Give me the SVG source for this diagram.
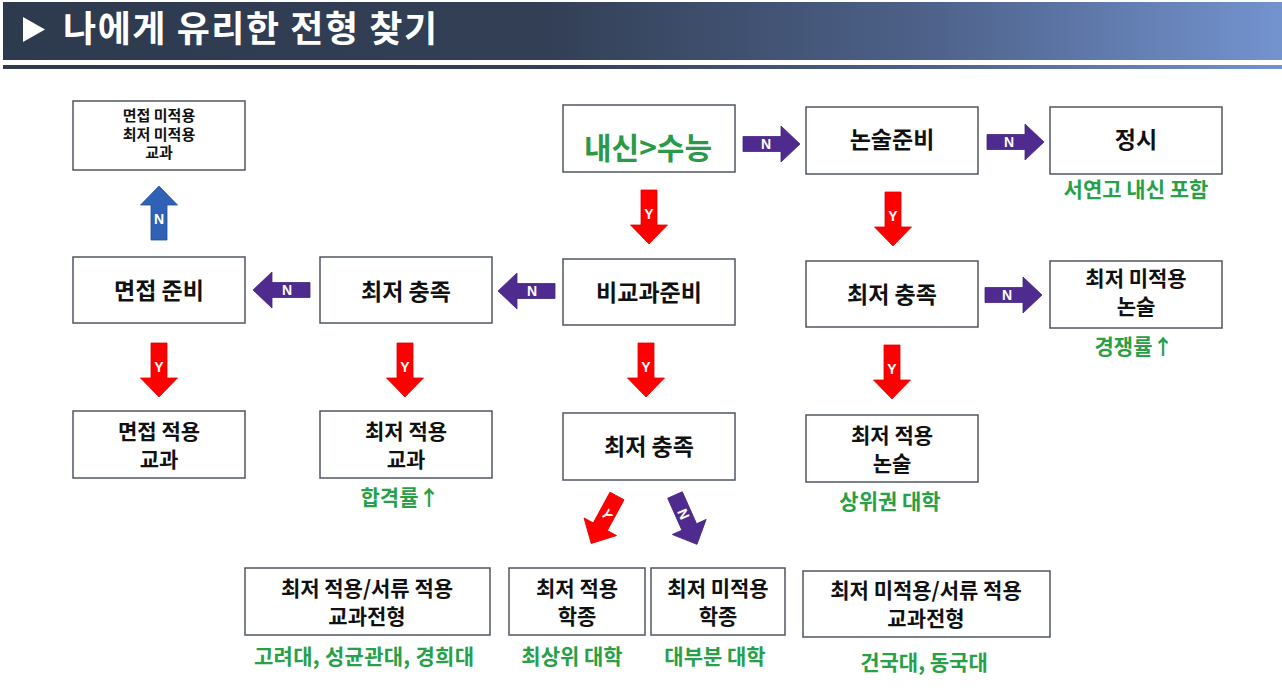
<svg xmlns="http://www.w3.org/2000/svg" width="1282" height="691" viewBox="0 0 1282 691">
<defs>
<linearGradient id="hdr" x1="0" y1="0" x2="1" y2="0">
<stop offset="0" stop-color="#2e3a4e"/>
<stop offset="0.42" stop-color="#323f55"/>
<stop offset="0.72" stop-color="#4d6189"/>
<stop offset="1" stop-color="#7393cf"/>
</linearGradient>
<path id="dn" d="M-8,0 h16 v35 h10.5 l-18.5,19 l-18.5,-19 h10.5 z"/>
<path id="rt" d="M0,-7.5 h38 v-10.5 l19,18 l-19,18 v-10.5 h-38 z"/>
<path id="lt" d="M0,-7.5 h-38 v-10.5 l-19,18 l19,18 v-10.5 h38 z"/>
</defs>
<style>
.box{fill:#fff;stroke:#4f5662;stroke-width:1.5}
.bt{font-family:"Noto Sans CJK KR","Noto Sans",sans-serif;font-weight:700;font-size:23px;fill:#111;text-anchor:middle}
.two{font-size:21px}
.sm{font-size:15px}
.g{fill:#27a048;font-size:21px}
.big{fill:#2a9a48;font-size:30px}
.al{font-family:"Liberation Sans",Arial,sans-serif;font-weight:700;font-size:14px;fill:#fff;text-anchor:middle}
.red{fill:#ff0000;stroke:#e00000;stroke-width:0.8}
.pur{fill:#4f2b8f;stroke:#43247c;stroke-width:0.8}
.blu{fill:#2f62b4;stroke:#234f96;stroke-width:0.8}
</style>
<rect width="1282" height="691" fill="#fff"/>
<g id="header">
<rect x="3" y="2" width="1279" height="58" fill="url(#hdr)"/>
<rect x="3" y="65" width="1279" height="4" fill="url(#hdr)"/>
<polygon points="23,17 23,42 45,29.5" fill="#fff"/>
<text x="63" y="42" font-family="Noto Sans CJK KR, Noto Sans, sans-serif" font-weight="700" font-size="36" fill="#fff" textLength="374" lengthAdjust="spacing">나에게 유리한 전형 찾기</text>
</g>
<g id="connectors">
<use href="#dn" class="red" transform="translate(649,190)"/><text class="al" x="649" y="219">Y</text>
<use href="#dn" class="red" transform="translate(893,192)"/><text class="al" x="893" y="221">Y</text>
<use href="#dn" class="red" transform="translate(159,343)"/><text class="al" x="159" y="372">Y</text>
<use href="#dn" class="red" transform="translate(405,343)"/><text class="al" x="405" y="372">Y</text>
<use href="#dn" class="red" transform="translate(646,343)"/><text class="al" x="646" y="372">Y</text>
<use href="#dn" class="red" transform="translate(892,345)"/><text class="al" x="892" y="374">Y</text>
<use href="#rt" class="pur" transform="translate(743,144)"/><text class="al" x="766" y="149">N</text>
<use href="#rt" class="pur" transform="translate(987,142)"/><text class="al" x="1009" y="147">N</text>
<use href="#rt" class="pur" transform="translate(985,295)"/><text class="al" x="1007" y="300">N</text>
<use href="#lt" class="pur" transform="translate(310,290)"/><text class="al" x="287" y="295">N</text>
<use href="#lt" class="pur" transform="translate(555,291)"/><text class="al" x="532" y="296">N</text>
<use href="#dn" class="blu" transform="translate(159,240) rotate(180)"/><text class="al" x="159" y="224">N</text>
<g transform="translate(617,496) rotate(28.5)"><use href="#dn" class="red"/><text class="al" transform="translate(0,21) rotate(32)" y="5">Y</text></g>
<g transform="translate(675,495) rotate(-24)"><use href="#dn" class="pur"/><text class="al" transform="translate(0,21) rotate(90)" y="5">N</text></g>
</g>
<g id="n1"><rect class="box" x="73" y="101" width="172" height="69"/>
<text class="bt sm" x="159" y="121">면접 미적용</text><text class="bt sm" x="159" y="139.5">최저 미적용</text><text class="bt sm" x="159" y="158">교과</text></g>
<g id="n2"><rect class="box" x="563" y="105" width="172" height="67"/><text class="bt big" x="648" y="159">내신&gt;수능</text></g>
<g id="n3"><rect class="box" x="806" y="107" width="172" height="67"/><text class="bt" x="892" y="148">논술준비</text></g>
<g id="n4"><rect class="box" x="1050" y="107" width="172" height="67"/><text class="bt" x="1136" y="148">정시</text>
<text class="bt g" x="1136" y="197">서연고 내신 포함</text></g>
<g id="n5"><rect class="box" x="73" y="257" width="172" height="66"/><text class="bt" x="159" y="298.5">면접 준비</text></g>
<g id="n6"><rect class="box" x="320" y="257" width="172" height="66"/><text class="bt" x="406" y="299.5">최저 충족</text></g>
<g id="n7"><rect class="box" x="563" y="259" width="172" height="66"/><text class="bt" x="649" y="300.5">비교과준비</text></g>
<g id="n8"><rect class="box" x="806" y="261" width="172" height="66"/><text class="bt" x="892" y="302.5">최저 충족</text></g>
<g id="n9"><rect class="box" x="1050" y="261" width="172" height="67"/><text class="bt two" x="1136" y="286">최저 미적용</text><text class="bt two" x="1136" y="314">논술</text>
<text class="bt g" x="1134" y="354">경쟁률↑</text></g>
<g id="n10"><rect class="box" x="73" y="411" width="172" height="67"/><text class="bt two" x="159" y="438.5">면접 적용</text><text class="bt two" x="159" y="466.5">교과</text></g>
<g id="n11"><rect class="box" x="320" y="411" width="172" height="67"/><text class="bt two" x="406" y="438.5">최저 적용</text><text class="bt two" x="406" y="466.5">교과</text>
<text class="bt g" x="400" y="505">합격률↑</text></g>
<g id="n12"><rect class="box" x="563" y="413" width="172" height="67"/><text class="bt" x="649" y="455">최저 충족</text></g>
<g id="n13"><rect class="box" x="806" y="415" width="172" height="67"/><text class="bt two" x="892" y="442.5">최저 적용</text><text class="bt two" x="892" y="470.5">논술</text>
<text class="bt g" x="890" y="509">상위권 대학</text></g>
<g id="n14"><rect class="box" x="245" y="568" width="245" height="67"/><text class="bt two" x="367" y="595.5">최저 적용/서류 적용</text><text class="bt two" x="367" y="623.5">교과전형</text>
<text class="bt g" x="364" y="664" textLength="220" lengthAdjust="spacing">고려대, 성균관대, 경희대</text></g>
<g id="n15"><rect class="box" x="509" y="568" width="136" height="67"/><text class="bt two" x="577" y="595.5">최저 적용</text><text class="bt two" x="577" y="623.5">학종</text>
<text class="bt g" x="572" y="664">최상위 대학</text></g>
<g id="n16"><rect class="box" x="651" y="568" width="134" height="67"/><text class="bt two" x="718" y="595.5">최저 미적용</text><text class="bt two" x="718" y="623.5">학종</text>
<text class="bt g" x="715" y="664">대부분 대학</text></g>
<g id="n17"><rect class="box" x="803" y="571" width="247" height="66"/><text class="bt two" x="926" y="598">최저 미적용/서류 적용</text><text class="bt two" x="926" y="626">교과전형</text>
<text class="bt g" x="924" y="670">건국대, 동국대</text></g>
</svg>
